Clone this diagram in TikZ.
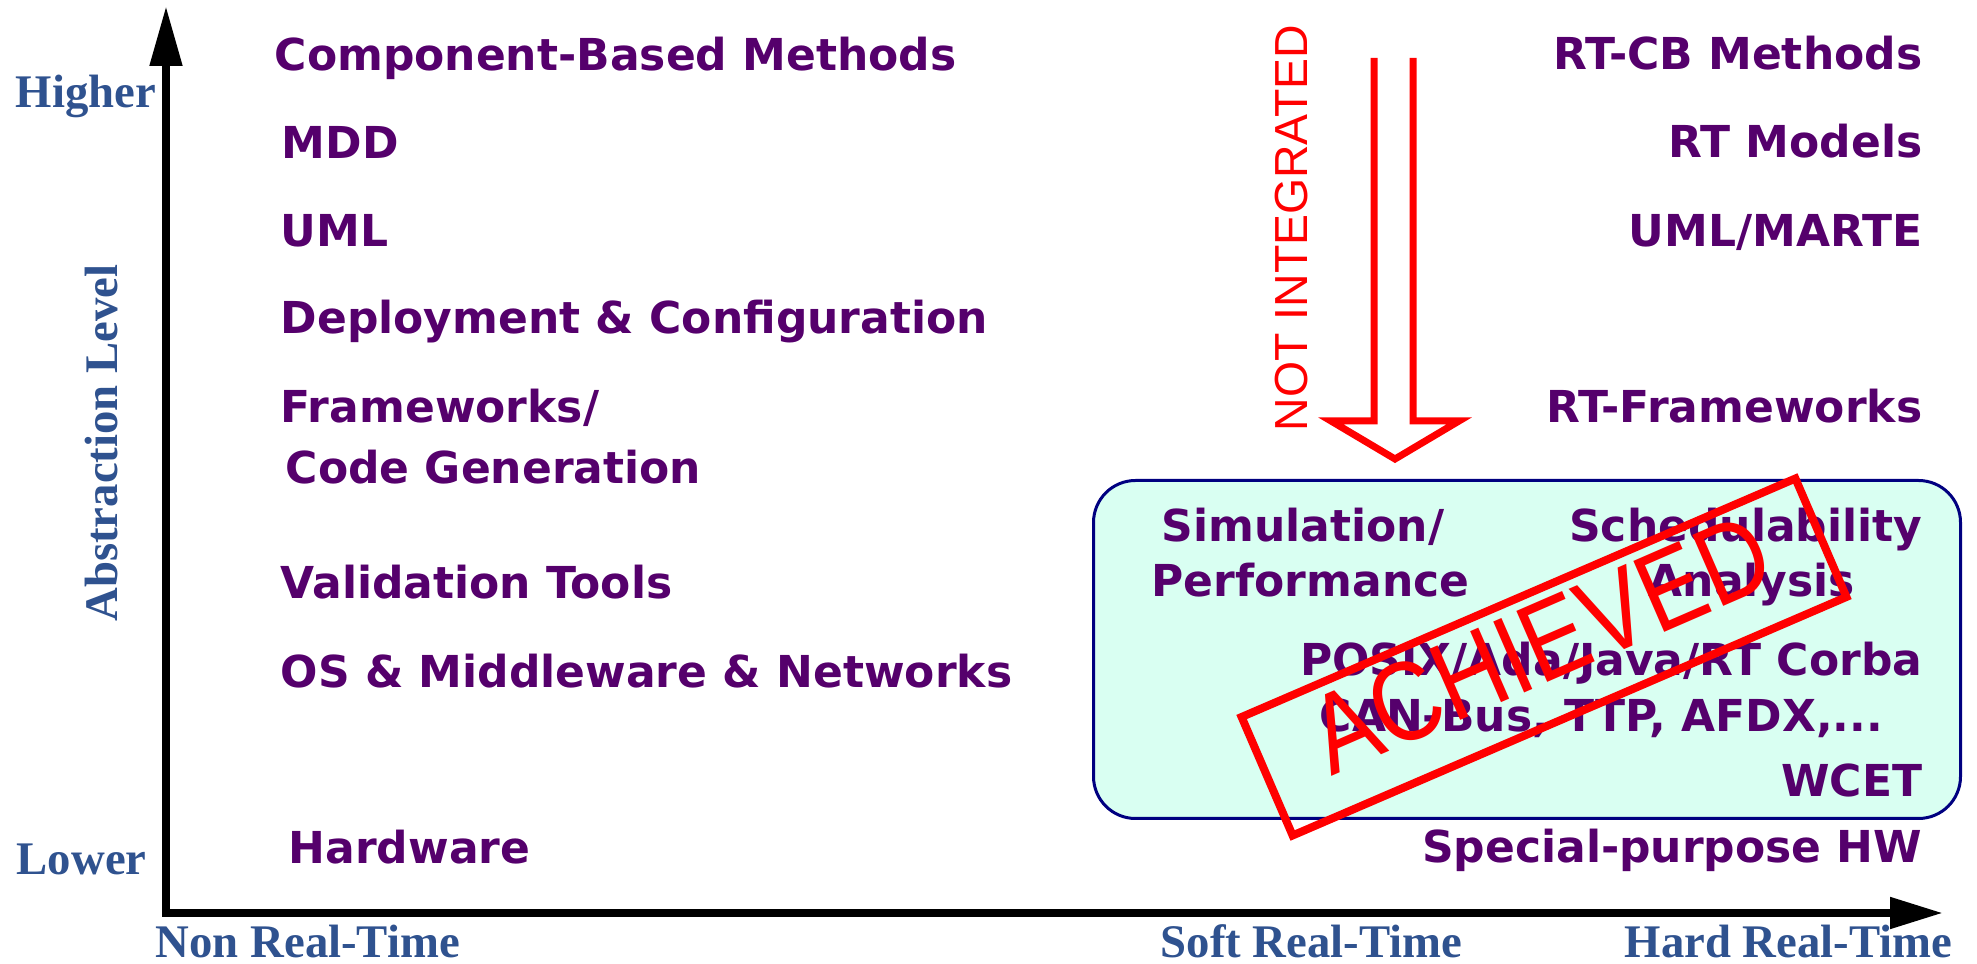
\documentclass[tikz,border=0pt]{standalone}
\usepackage{fontspec}
\setmainfont{DejaVu Sans}
\newfontfamily\axisfont{Liberation Serif}
\newfontfamily\stampfont{Liberation Sans}
\usepackage{tikz}
\usetikzlibrary{arrows.meta}

\definecolor{itempurple}{RGB}{85,0,108}
\definecolor{axisblue}{RGB}{47,82,143}
\definecolor{boxfill}{RGB}{217,255,242}
\definecolor{boxline}{RGB}{0,0,128}

\begin{document}
\begin{tikzpicture}[
        item/.style={font=\bfseries\fontsize{12.52}{15}\selectfont, text=itempurple, inner sep=0pt},
        axislabel/.style={font=\axisfont\bfseries\fontsize{13.3}{16}\selectfont, text=axisblue, inner sep=0pt},
        redlabel/.style={font=\stampfont\fontsize{13.2}{16}\selectfont, text=red, inner sep=0pt}
    ]
        % 固定画布大小
        \useasboundingbox (0,0) rectangle (19.77,9.64);

        % 坐标轴
        \coordinate (origin) at (1.66,0.51);
        \coordinate (ytop) at (1.66,9.58);
        \coordinate (xend) at (19.43,0.51);
        \draw[line width=0.08cm, {Triangle[length=0.6cm,width=0.31cm]}-{Triangle[length=0.53cm,width=0.30cm]}] (ytop) -- (origin) -- (xend);

        % 轴标签
        \node[axislabel, anchor=base west] (higher) at (0.15,8.56) {Higher};
        \node[axislabel, anchor=base west] (lower) at (0.16,0.89) {Lower};
        \node[axislabel, rotate=90] (abstraction) at (1.02,5.21) {Abstraction Level};
        \node[axislabel, anchor=base west] (nonrt) at (1.55,0.06) {Non Real-Time};
        \node[axislabel, anchor=base west] (softrt) at (11.60,0.06) {Soft Real-Time};
        \node[axislabel, anchor=base west] (hardrt) at (16.24,0.06) {Hard Real-Time};

        % 左列:非实时方法
        \foreach \x/\y/\txt [count=\i] in {2.74/8.93/Component-Based Methods, 2.81/8.05/MDD, 2.80/7.17/UML,
                2.80/6.30/Deployment \& Configuration, 2.80/5.41/{Frameworks/}, 2.85/4.80/Code Generation,
                2.80/3.65/Validation Tools, 2.80/2.76/OS \& Middleware \& Networks, 2.88/1.00/Hardware}
            \node[item, anchor=base west] (left\i) at (\x,\y) {\txt};

        % 右列:实时方法
        \foreach \y/\txt [count=\i] in {8.94/RT-CB Methods, 8.06/RT Models, 7.17/{UML/MARTE}, 5.41/RT-Frameworks}
            \node[item, anchor=base east] (right\i) at (19.23,\y) {\txt};

        % 已实现的区域
        \node[draw=boxline, fill=boxfill, line width=0.03cm, rounded corners=0.42cm,
            minimum width=8.67cm, minimum height=3.38cm] (rtbox) at (15.27,3.145) {};
        \node[item, anchor=base west] (sim) at (11.61,4.22) {Simulation/};
        \node[item, anchor=base west] (perf) at (11.51,3.67) {Performance};
        \node[item, anchor=base east] (sched) at (19.23,4.22) {Schedulability};
        \node[item, anchor=base west] (analysis) at (16.48,3.67) {Analysis};
        \node[item, anchor=base east] (posix) at (19.23,2.88) {POSIX/Ada/Java/RT Corba};
        \node[item, anchor=base west] (bus) at (13.19,2.32) {CAN-Bus, TTP, AFDX,...};
        \node[item, anchor=base east] (wcet) at (19.23,1.67) {WCET};
        \node[item, anchor=base east] (hw) at (19.23,1.01) {Special-purpose HW};

        % 未集成的空心箭头
        \node[redlabel, rotate=90] (notint) at (12.92,7.36) {NOT INTEGRATED};
        \draw[red, line width=0.07cm] (13.74,9.06) -- (13.74,5.43) -- (13.31,5.43) -- (13.95,5.05)
            -- (14.59,5.43) -- (14.13,5.43) -- (14.13,9.06);

        % 印章
        \node[draw=red, line width=0.08cm, rotate=23.3, minimum width=6.03cm, minimum height=1.29cm] (stamp) at (15.44,3.07) {};
        \node[font=\stampfont\fontsize{32}{36}\selectfont, text=red, rotate=23.5, inner sep=0pt] (achieved) at (15.40,3.20) {\scalebox{0.85}[1]{ACHIEVED}};
    \end{tikzpicture}
\end{document}
